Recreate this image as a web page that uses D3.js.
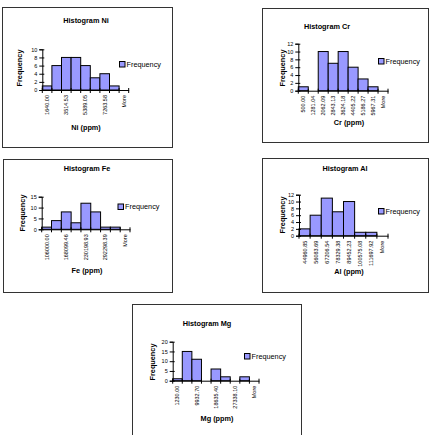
<!DOCTYPE html>
<html><head><meta charset="utf-8">
<script src="https://cdn.jsdelivr.net/npm/d3@7/dist/d3.min.js"></script>
<style>
html,body{margin:0;padding:0;background:#fff;}
svg{display:block;font-family:"Liberation Sans",Arial,sans-serif;}
</style></head>
<body>
<script>
// ---- Data ----
const niBins = ["1640.00","2577.26","3514.53","4451.79","5389.05","6326.32","7263.58","8200.84","More"];
const niCounts = [1,6,8,8,6,3,4,1,0];
const niTicks = [0,2,4,6,8,10];

const crBins = ["500.00","1281.04","2062.09","2843.13","3624.18","4405.22","5186.27","5967.31","More"];
const crCounts = [1,0,10,7,10,6,3,1,0];
const crTicks = [0,2,4,6,8,10,12];

const feBins = ["106000.00","137049.73","168099.46","199149.20","230198.93","261248.66","292298.39","323348.12","More"];
const feCounts = [1,4,8,3,12,8,1,1,0];
const feTicks = [0,5,10,15];

const alBins = ["44960.85","56083.69","67206.54","78329.38","89452.23","100575.08","111697.92","More"];
const alCounts = [2,6,11,7,10,1,1,0];
const alTicks = [0,2,4,6,8,10,12];

const mgBins = ["1230.00","5581.35","9932.70","14284.05","18635.40","22986.75","27338.10","31689.45","More"];
const mgCounts = [1,15,11,0,6,2,0,2,0];
const mgTicks = [0,5,10,15,20];

const titles = ["Histogram Ni","Histogram Cr","Histogram Fe","Histogram Al","Histogram Mg"];
const xTitles = ["Ni (ppm)","Cr (ppm)","Fe (ppm)","Al (ppm)","Mg (ppm)"];
const legendLabel = "Frequency";

// ---- Layout ----
const panels = [
  {bins:niBins,counts:niCounts,ticks:niTicks,every:2,title:titles[0],xt:xTitles[0],
   box:[2,7,170,140],px:[42.3,128.7],py:[90,49.3],tt:[86,22.5],yt:[19,68],xtp:[86,130],lg:[122,64]},
  {bins:crBins,counts:crCounts,ticks:crTicks,every:1,title:titles[1],xt:xTitles[1],
   box:[262,8,166,134],px:[298.3,388],py:[90.7,43.7],tt:[327,28.5],yt:[282,68],xtp:[349,124.5],lg:[381,61]},
  {bins:feBins,counts:feCounts,ticks:feTicks,every:2,title:titles[2],xt:xTitles[2],
   box:[3,159,169,133],px:[41.7,130],py:[229.3,196.7],tt:[87,170.5],yt:[22.5,213],xtp:[87,272.5],lg:[120.5,206.5]},
  {bins:alBins,counts:alCounts,ticks:alTicks,every:1,title:titles[3],xt:xTitles[3],
   box:[262,158,166,134],px:[299,388],py:[235.7,194.7],tt:[345,170.5],yt:[282,215],xtp:[349,273.5],lg:[381,211]},
  {bins:mgBins,counts:mgCounts,ticks:mgTicks,every:2,title:titles[4],xt:xTitles[4],
   box:[132,304,169,140],px:[172.7,259],py:[380.7,341.7],tt:[207,325.5],yt:[152,362],xtp:[217,420.5],lg:[247,356]}
];

const W=429,H=435;
const svg=d3.select("body").append("svg").attr("width",W).attr("height",H);
const barFill="#9999FF";

panels.forEach(p=>{
  const g=svg.append("g");
  g.append("rect").attr("x",p.box[0]+0.5).attr("y",p.box[1]+0.5)
    .attr("width",p.box[2]).attr("height",p.box[3])
    .attr("fill","#fff").attr("stroke","#333").attr("stroke-width",1);

  const x=d3.scaleBand().domain(p.bins).range(p.px).padding(0);
  const yMax=p.ticks[p.ticks.length-1];
  const y=d3.scaleLinear().domain([0,yMax]).range(p.py);

  // bars
  g.selectAll("rect.bar").data(p.bins.map((b,i)=>({b,v:p.counts[i]})).filter(d=>d.v>0))
    .enter().append("rect").attr("class","bar")
    .attr("x",d=>x(d.b)).attr("width",x.bandwidth())
    .attr("y",d=>y(d.v)).attr("height",d=>y(0)-y(d.v))
    .attr("fill",barFill).attr("stroke","#000").attr("stroke-width",1);

  // y axis
  const ya=g.append("g").attr("transform",`translate(${p.px[0]},0)`)
    .call(d3.axisLeft(y).tickValues(p.ticks).tickSize(3).tickPadding(2).tickFormat(d3.format("d")));
  ya.select(".domain").attr("stroke","#000");
  ya.selectAll(".tick line").attr("stroke","#000").attr("x2",-3).attr("x1",2);
  ya.selectAll("text").attr("font-size","5.5px").attr("fill","#000");

  // x axis
  const xa=g.append("g").attr("transform",`translate(0,${p.py[0]})`)
    .call(d3.axisBottom(x).tickSize(0).tickPadding(5)
      .tickFormat((d,i)=> (i%p.every===0 || d==="More") ? d : ""));
  xa.select(".domain").attr("stroke","#000");
  xa.selectAll(".tick text").attr("font-size","5.5px").attr("fill","#000")
    .attr("transform","rotate(-90)").attr("text-anchor","end")
    .attr("x",-5).attr("y",0).attr("dy","0.35em");
  // boundary ticks
  const bounds=p.bins.map(b=>x(b)).concat([x(p.bins[p.bins.length-1])+x.bandwidth()]);
  g.selectAll("line.bt").data(bounds).enter().append("line")
    .attr("x1",d=>d).attr("x2",d=>d).attr("y1",p.py[0]-2).attr("y2",p.py[0]+3)
    .attr("stroke","#000").attr("stroke-width",1);

  // titles
  g.append("text").attr("x",p.tt[0]).attr("y",p.tt[1]).attr("text-anchor","middle")
    .attr("font-size","7.3px").attr("font-weight","bold").text(p.title);
  g.append("text").attr("transform",`translate(${p.yt[0]+2.5},${p.yt[1]}) rotate(-90)`)
    .attr("text-anchor","middle").attr("font-size","7.3px").attr("font-weight","bold").text("Frequency");
  g.append("text").attr("x",p.xtp[0]).attr("y",p.xtp[1]).attr("text-anchor","middle")
    .attr("font-size","7.3px").attr("font-weight","bold").text(p.xt);

  // legend
  g.append("rect").attr("x",p.lg[0]-2.5).attr("y",p.lg[1]-2.5).attr("width",5.5).attr("height",5.5)
    .attr("fill",barFill).attr("stroke","#000").attr("stroke-width",1);
  g.append("text").attr("x",p.lg[0]+4.5).attr("y",p.lg[1]+2.6)
    .attr("font-size","7.3px").text(legendLabel);
});
</script>
</body></html>
